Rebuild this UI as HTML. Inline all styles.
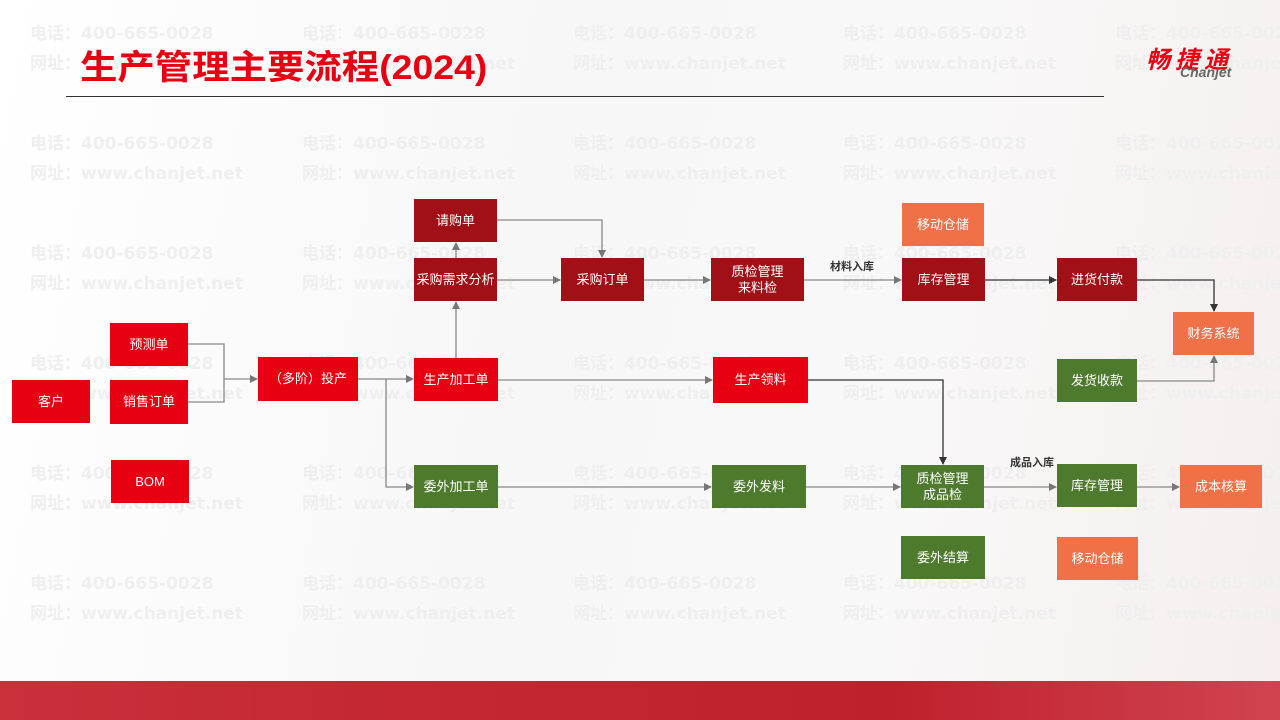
<!DOCTYPE html>
<html style="overflow:hidden"><head><meta charset="utf-8"><style>
html,body{margin:0;width:1280px;height:720px;overflow:hidden}
body{position:relative;background:linear-gradient(100deg,#fff 0%,#f7f7f7 40%,#f9f8f8 70%,#f6eeee 100%);font-family:"Liberation Sans","Noto Sans CJK SC",sans-serif}
.wm{position:absolute;color:#efefef;font-size:17px;font-weight:bold;white-space:nowrap;font-family:"DejaVu Sans","Noto Sans CJK SC",sans-serif}
.b{position:absolute;color:#fff;font-size:13px;display:flex;align-items:center;justify-content:center;text-align:center;line-height:16px}
.r{background:#e60012}.d{background:#a01016}.g{background:#4e7a2e}.o{background:#f07048}
</style></head><body>
<div id="wm"></div>
<script>
var h='';var ys=[30,140,250,360,470,580],xs=[30,302,573,843,1115];
ys.forEach(function(y){xs.forEach(function(x){h+='<div class="wm" style="left:'+x+'px;top:'+(y-11)+'px">电话：400-665-0028</div><div class="wm" style="left:'+x+'px;top:'+(y+19)+'px">网址：www.chanjet.net</div>';});});
document.getElementById('wm').innerHTML=h;
</script>
<div style="position:absolute;left:0;top:681px;width:1280px;height:39px;background:linear-gradient(90deg,#c8303c,#c42532 40%,#c0202e 70%,#d04450)"></div>
<div style="position:absolute;left:80px;top:40px;color:#e60012;font-size:34px;font-weight:bold;letter-spacing:0px;transform:scaleX(1.1);transform-origin:left">生产管理主要流程(2024)</div>
<div style="position:absolute;left:66px;top:96px;width:1038px;height:1px;background:#333"></div>
<div style="position:absolute;left:1146px;top:40px;color:#e60012;font-size:24px;font-weight:bold;font-style:italic;letter-spacing:5px">畅捷通</div>
<div style="position:absolute;left:1180px;top:64px;color:#666;font-size:14px;font-style:italic;font-weight:bold">Chanjet</div>

<svg style="position:absolute;left:0;top:0" width="1280" height="720">
<defs><marker id="a" markerWidth="8" markerHeight="8" refX="7" refY="4" orient="auto" markerUnits="userSpaceOnUse"><path d="M0,0L8,4L0,8z" fill="#777"/></marker>
<marker id="k" markerWidth="8" markerHeight="8" refX="7" refY="4" orient="auto" markerUnits="userSpaceOnUse"><path d="M0,0L8,4L0,8z" fill="#333"/></marker></defs>
<g fill="none" stroke="#888" stroke-width="1.3">
<path d="M188,344H224V402H188"/><path d="M224,379H257" marker-end="url(#a)"/>
<path d="M358,379H413" marker-end="url(#a)"/><path d="M386,379V487H413" marker-end="url(#a)"/>
<path d="M456,358V302" marker-end="url(#a)"/><path d="M456,258V243" marker-end="url(#a)"/>
<path d="M497,220H602V257" marker-end="url(#a)"/>
<path d="M497,280H560" marker-end="url(#a)"/><path d="M644,280H710" marker-end="url(#a)"/>
<path d="M804,280H901" marker-end="url(#a)"/>
<path d="M498,380H712" marker-end="url(#a)"/>
<path d="M498,487H711" marker-end="url(#a)"/><path d="M806,487H900" marker-end="url(#a)"/>
<path d="M984,487H1056" marker-end="url(#a)"/><path d="M1137,487H1179" marker-end="url(#a)"/>
<path d="M1137,381H1214V356" marker-end="url(#a)"/>
</g>
<g fill="none" stroke="#333" stroke-width="1.3">
<path d="M985,280H1056" marker-end="url(#k)"/>
<path d="M1137,280H1214V311" marker-end="url(#k)"/>
<path d="M808,380H943V464" marker-end="url(#k)"/>
<path d="M82,409H90"/>
</g>
<text x="830" y="270" font-size="11" font-weight="bold" fill="#333" font-family="Liberation Sans,Noto Sans CJK SC,sans-serif">材料入库</text>
<text x="1010" y="466" font-size="11" font-weight="bold" fill="#333" font-family="Liberation Sans,Noto Sans CJK SC,sans-serif">成品入库</text>
</svg>

<div class="b r" style="left:12px;top:380px;width:78px;height:43px">客户</div>
<div class="b r" style="left:110px;top:323px;width:78px;height:43px">预测单</div>
<div class="b r" style="left:110px;top:380px;width:78px;height:44px">销售订单</div>
<div class="b r" style="left:111px;top:460px;width:78px;height:43px">BOM</div>
<div class="b r" style="left:258px;top:357px;width:100px;height:44px">（多阶）投产</div>
<div class="b r" style="left:414px;top:358px;width:84px;height:43px">生产加工单</div>
<div class="b d" style="left:414px;top:258px;width:83px;height:43px">采购需求分析</div>
<div class="b d" style="left:414px;top:199px;width:83px;height:43px">请购单</div>
<div class="b g" style="left:414px;top:465px;width:84px;height:43px">委外加工单</div>
<div class="b d" style="left:561px;top:258px;width:83px;height:43px">采购订单</div>
<div class="b d" style="left:711px;top:258px;width:93px;height:43px">质检管理<br>来料检</div>
<div class="b r" style="left:713px;top:357px;width:95px;height:46px">生产领料</div>
<div class="b g" style="left:712px;top:465px;width:94px;height:43px">委外发料</div>
<div class="b o" style="left:902px;top:203px;width:82px;height:43px">移动仓储</div>
<div class="b d" style="left:902px;top:258px;width:83px;height:43px">库存管理</div>
<div class="b g" style="left:901px;top:465px;width:83px;height:43px">质检管理<br>成品检</div>
<div class="b g" style="left:901px;top:536px;width:84px;height:43px">委外结算</div>
<div class="b d" style="left:1057px;top:258px;width:80px;height:43px">进货付款</div>
<div class="b g" style="left:1057px;top:359px;width:80px;height:43px">发货收款</div>
<div class="b o" style="left:1173px;top:312px;width:81px;height:43px">财务系统</div>
<div class="b g" style="left:1057px;top:464px;width:80px;height:43px">库存管理</div>
<div class="b o" style="left:1057px;top:537px;width:81px;height:43px">移动仓储</div>
<div class="b o" style="left:1180px;top:465px;width:82px;height:43px">成本核算</div>
</body></html>
